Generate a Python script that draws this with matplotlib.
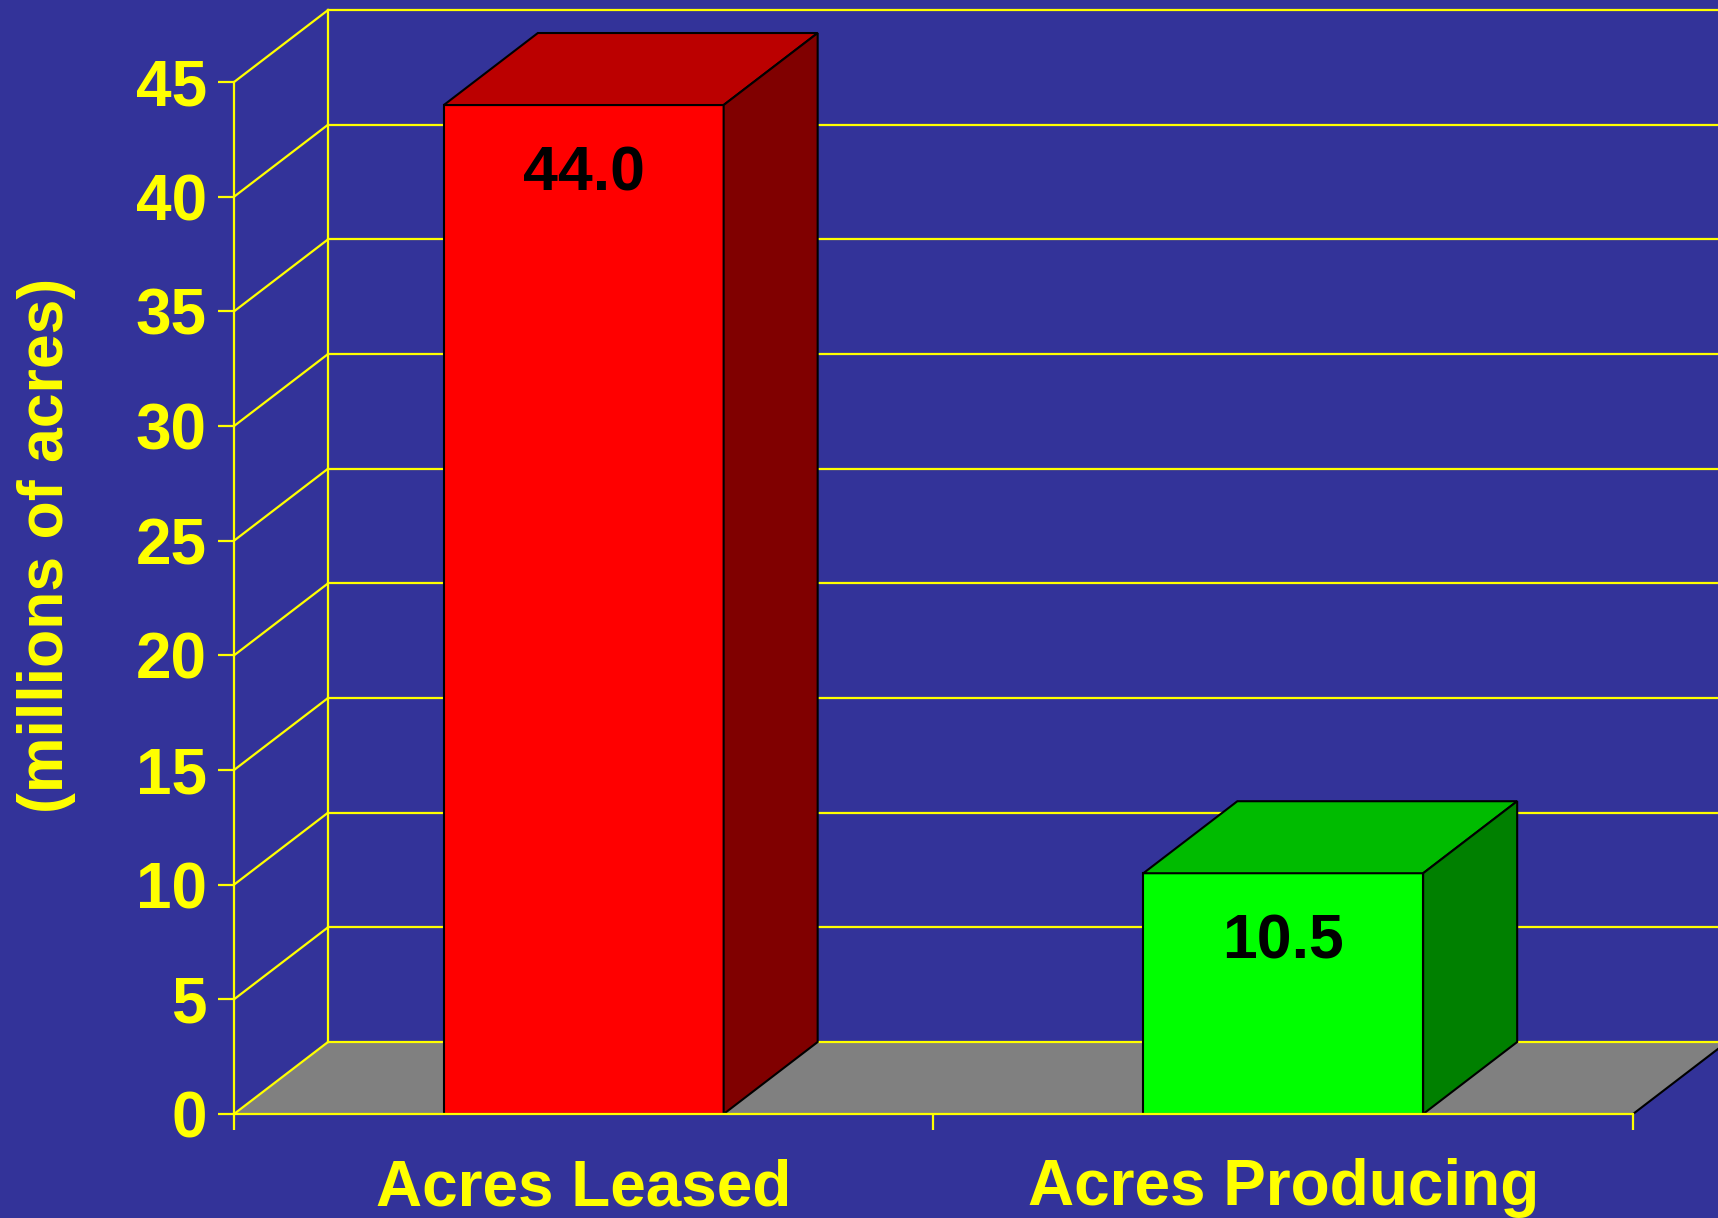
#!/usr/bin/env python3

import matplotlib
matplotlib.use("Agg")
import matplotlib.pyplot as plt
from matplotlib.patches import Polygon

# data
categories = ["Acres Leased", "Acres Producing"]
values = [44.0, 10.5]
front_colors = ["#FF0000", "#00FF00"]
top_colors = ["#BB0000", "#00BB00"]
side_colors = ["#800000", "#008000"]
y_ticks = [0, 5, 10, 15, 20, 25, 30, 35, 40, 45]

BG = "#333399"
YEL = "#FFFF00"
FLOOR = "#808080"

# fake 3d depth, in data units
DX = 0.1344
DY = 3.14
BAR_W = 0.4

plt.rcParams["font.family"] = ["Liberation Sans", "DejaVu Sans"]
plt.rcParams["font.weight"] = "bold"

fig = plt.figure(figsize=(17.18, 12.18), dpi=100, facecolor=BG)
ax = fig.add_axes([0, 0, 1, 1])
ax.set_facecolor(BG)
ax.set_xlim(-0.3345, 2.1215)
ax.set_ylim(-4.535, 48.58)

n = len(categories)
xmax = ax.get_xlim()[1]

# floor
floor = Polygon([(0, 0), (n, 0), (n + DX, DY), (DX, DY)], closed=True,
                facecolor=FLOOR, edgecolor="none", zorder=0.5)
ax.add_patch(floor)
ax.plot([n, n + DX], [0, DY], color="black", lw=1.5, zorder=0.7)

# back wall grid and side diagonals
for t in y_ticks:
    ax.plot([DX, xmax], [t + DY, t + DY], color=YEL, lw=1.6, zorder=0.6)
    ax.plot([0, DX], [t, t + DY], color=YEL, lw=1.6, zorder=0.6)
ax.plot([DX, DX], [DY, y_ticks[-1] + DY], color=YEL, lw=1.6, zorder=0.6)

# bars
xs = [i + 0.5 for i in range(n)]
ax.bar(xs, values, width=BAR_W, color=front_colors, edgecolor="black",
       linewidth=1.5, zorder=2)
for x, v, tc, sc in zip(xs, values, top_colors, side_colors):
    l, r = x - BAR_W / 2, x + BAR_W / 2
    top = Polygon([(l, v), (r, v), (r + DX, v + DY), (l + DX, v + DY)],
                  closed=True, facecolor=tc, edgecolor="black", lw=1.5, zorder=2)
    side = Polygon([(r, 0), (r + DX, DY), (r + DX, v + DY), (r, v)],
                   closed=True, facecolor=sc, edgecolor="black", lw=1.5, zorder=2)
    ax.add_patch(top)
    ax.add_patch(side)
    ax.text(x, v - 3.72, f"{v:.1f}", ha="center", va="baseline",
            fontsize=45, fontweight="bold", color="black", zorder=3)

# axes
for s in ["top", "right"]:
    ax.spines[s].set_visible(False)
ax.spines["left"].set_position(("data", 0))
ax.spines["left"].set_bounds(0, y_ticks[-1])
ax.spines["bottom"].set_position(("data", 0))
ax.spines["bottom"].set_bounds(0, n)
for s in ["left", "bottom"]:
    ax.spines[s].set_color(YEL)
    ax.spines[s].set_linewidth(1.6)
    ax.spines[s].set_zorder(2.5)

ax.set_yticks(y_ticks)
ax.set_yticklabels([str(t) for t in y_ticks])
ax.set_xticks(range(n + 1))
ax.set_xticklabels([])
ax.set_xticks(xs, minor=True)
ax.set_xticklabels(categories, minor=True)
ax.tick_params(axis="y", colors=YEL, length=11.5, width=1.6, pad=8,
               labelsize=46, direction="out")
ax.tick_params(axis="x", which="major", colors=YEL, length=11.5, width=1.6,
               direction="out")
ax.tick_params(axis="x", which="minor", length=0, pad=32, labelsize=46,
               labelcolor=YEL)
for lab in ax.get_yticklabels() + ax.get_xticklabels(minor=True):
    lab.set_fontweight("bold")

fig.text(47 / 1718, 1 - 545 / 1218, "(millions of acres)", rotation=90,
         ha="center", va="center", fontsize=45, fontweight="bold", color=YEL)

fig.savefig("out.png", dpi=100, facecolor=BG)
plt.close(fig)
